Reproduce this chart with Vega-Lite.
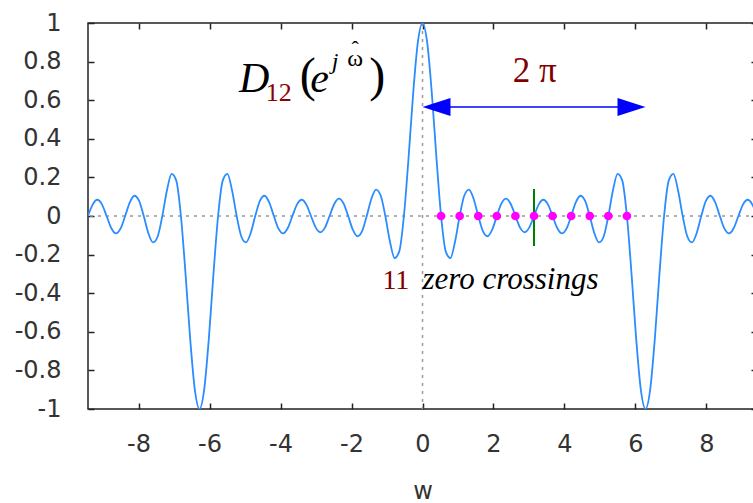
{
  "$schema": "https://vega.github.io/schema/vega-lite/v6.json",
  "width": 669,
  "height": 386,
  "autosize": "none",
  "padding": {"left": 88, "top": 23, "right": 0, "bottom": 94},
  "background": "white",
  "config": {
    "view": {"stroke": "#222", "strokeWidth": 1.5},
    "axis": {
      "labelFont": "DejaVu Sans", "labelFontSize": 24, "labelColor": "#333",
      "tickColor": "#222", "tickWidth": 1.5, "tickSize": -6,
      "domain": false, "grid": false,
      "titleFont": "DejaVu Sans", "titleFontWeight": "normal", "titleFontSize": 24, "titleColor": "#333"
    }
  },
  "datasets": {
    "curve": [
      {"w": -9.4248, "d": 0}, {"w": -9.2939, "d": 0.0591}, {"w": -9.1630, "d": 0.0841}, {"w": -9.0321, "d": 0.0601},
      {"w": -8.9012, "d": 0}, {"w": -8.7703, "d": -0.0622}, {"w": -8.6394, "d": -0.0902}, {"w": -8.5085, "d": -0.0657},
      {"w": -8.3776, "d": 0}, {"w": -8.2467, "d": 0.0709}, {"w": -8.1158, "d": 0.1050}, {"w": -7.9849, "d": 0.0784},
      {"w": -7.8540, "d": 0}, {"w": -7.7231, "d": -0.0894}, {"w": -7.5922, "d": -0.1369}, {"w": -7.4613, "d": -0.1061},
      {"w": -7.3304, "d": 0}, {"w": -7.1995, "d": 0.1332}, {"w": -7.0686, "d": 0.2178}, {"w": -6.9377, "d": 0.1833},
      {"w": -6.8068, "d": 0}, {"w": -6.6759, "d": -0.3020}, {"w": -6.5450, "d": -0.6384}, {"w": -6.4141, "d": -0.9010},
      {"w": -6.2832, "d": -1}, {"w": -6.1523, "d": -0.9010}, {"w": -6.0214, "d": -0.6384}, {"w": -5.8905, "d": -0.3020},
      {"w": -5.7596, "d": 0}, {"w": -5.6287, "d": 0.1833}, {"w": -5.4978, "d": 0.2178}, {"w": -5.3669, "d": 0.1332},
      {"w": -5.2360, "d": 0}, {"w": -5.1051, "d": -0.1061}, {"w": -4.9742, "d": -0.1369}, {"w": -4.8433, "d": -0.0894},
      {"w": -4.7124, "d": 0}, {"w": -4.5815, "d": 0.0784}, {"w": -4.4506, "d": 0.1050}, {"w": -4.3197, "d": 0.0709},
      {"w": -4.1888, "d": 0}, {"w": -4.0579, "d": -0.0657}, {"w": -3.9270, "d": -0.0902}, {"w": -3.7961, "d": -0.0622},
      {"w": -3.6652, "d": 0}, {"w": -3.5343, "d": 0.0601}, {"w": -3.4034, "d": 0.0841}, {"w": -3.2725, "d": 0.0591},
      {"w": -3.1416, "d": 0}, {"w": -3.0107, "d": -0.0591}, {"w": -2.8798, "d": -0.0841}, {"w": -2.7489, "d": -0.0601},
      {"w": -2.6180, "d": 0}, {"w": -2.4871, "d": 0.0622}, {"w": -2.3562, "d": 0.0902}, {"w": -2.2253, "d": 0.0657},
      {"w": -2.0944, "d": 0}, {"w": -1.9635, "d": -0.0709}, {"w": -1.8326, "d": -0.1050}, {"w": -1.7017, "d": -0.0784},
      {"w": -1.5708, "d": 0}, {"w": -1.4399, "d": 0.0894}, {"w": -1.3090, "d": 0.1369}, {"w": -1.1781, "d": 0.1061},
      {"w": -1.0472, "d": 0}, {"w": -0.9163, "d": -0.1332}, {"w": -0.7854, "d": -0.2178}, {"w": -0.6545, "d": -0.1833},
      {"w": -0.5236, "d": 0}, {"w": -0.3927, "d": 0.3020}, {"w": -0.2618, "d": 0.6384}, {"w": -0.1309, "d": 0.9010},
      {"w": 0, "d": 1},
      {"w": 0.1309, "d": 0.9010}, {"w": 0.2618, "d": 0.6384}, {"w": 0.3927, "d": 0.3020}, {"w": 0.5236, "d": 0},
      {"w": 0.6545, "d": -0.1833}, {"w": 0.7854, "d": -0.2178}, {"w": 0.9163, "d": -0.1332}, {"w": 1.0472, "d": 0},
      {"w": 1.1781, "d": 0.1061}, {"w": 1.3090, "d": 0.1369}, {"w": 1.4399, "d": 0.0894}, {"w": 1.5708, "d": 0},
      {"w": 1.7017, "d": -0.0784}, {"w": 1.8326, "d": -0.1050}, {"w": 1.9635, "d": -0.0709}, {"w": 2.0944, "d": 0},
      {"w": 2.2253, "d": 0.0657}, {"w": 2.3562, "d": 0.0902}, {"w": 2.4871, "d": 0.0622}, {"w": 2.6180, "d": 0},
      {"w": 2.7489, "d": -0.0601}, {"w": 2.8798, "d": -0.0841}, {"w": 3.0107, "d": -0.0591}, {"w": 3.1416, "d": 0},
      {"w": 3.2725, "d": 0.0591}, {"w": 3.4034, "d": 0.0841}, {"w": 3.5343, "d": 0.0601}, {"w": 3.6652, "d": 0},
      {"w": 3.7961, "d": -0.0622}, {"w": 3.9270, "d": -0.0902}, {"w": 4.0579, "d": -0.0657}, {"w": 4.1888, "d": 0},
      {"w": 4.3197, "d": 0.0709}, {"w": 4.4506, "d": 0.1050}, {"w": 4.5815, "d": 0.0784}, {"w": 4.7124, "d": 0},
      {"w": 4.8433, "d": -0.0894}, {"w": 4.9742, "d": -0.1369}, {"w": 5.1051, "d": -0.1061}, {"w": 5.2360, "d": 0},
      {"w": 5.3669, "d": 0.1332}, {"w": 5.4978, "d": 0.2178}, {"w": 5.6287, "d": 0.1833}, {"w": 5.7596, "d": 0},
      {"w": 5.8905, "d": -0.3020}, {"w": 6.0214, "d": -0.6384}, {"w": 6.1523, "d": -0.9010}, {"w": 6.2832, "d": -1},
      {"w": 6.4141, "d": -0.9010}, {"w": 6.5450, "d": -0.6384}, {"w": 6.6759, "d": -0.3020}, {"w": 6.8068, "d": 0},
      {"w": 6.9377, "d": 0.1833}, {"w": 7.0686, "d": 0.2178}, {"w": 7.1995, "d": 0.1332}, {"w": 7.3304, "d": 0},
      {"w": 7.4613, "d": -0.1061}, {"w": 7.5922, "d": -0.1369}, {"w": 7.7231, "d": -0.0894}, {"w": 7.8540, "d": 0},
      {"w": 7.9849, "d": 0.0784}, {"w": 8.1158, "d": 0.1050}, {"w": 8.2467, "d": 0.0709}, {"w": 8.3776, "d": 0},
      {"w": 8.5085, "d": -0.0657}, {"w": 8.6394, "d": -0.0902}, {"w": 8.7703, "d": -0.0622}, {"w": 8.9012, "d": 0},
      {"w": 9.0321, "d": 0.0601}, {"w": 9.1630, "d": 0.0841}, {"w": 9.2939, "d": 0.0591}, {"w": 9.4248, "d": 0}
    ],
    "zeros": [
      {"w": 0.5236, "d": 0}, {"w": 1.0472, "d": 0}, {"w": 1.5708, "d": 0}, {"w": 2.0944, "d": 0},
      {"w": 2.6180, "d": 0}, {"w": 3.1416, "d": 0}, {"w": 3.6652, "d": 0}, {"w": 4.1888, "d": 0},
      {"w": 4.7124, "d": 0}, {"w": 5.2360, "d": 0}, {"w": 5.7596, "d": 0}
    ]
  },
  "resolve": {"axis": {"x": "independent", "y": "independent"}},
  "layer": [
    {
      "data": {"values": [{}]},
      "mark": {"type": "rule", "color": "#999999", "strokeDash": [3, 5], "strokeWidth": 1.5},
      "encoding": {"y": {"datum": 0, "type": "quantitative", "axis": null}}
    },
    {
      "data": {"values": [{}]},
      "mark": {"type": "rule", "color": "#999999", "strokeDash": [3, 5], "strokeWidth": 1.5},
      "encoding": {"x": {"datum": 0, "type": "quantitative", "axis": null}}
    },
    {
      "data": {"name": "curve"},
      "mark": {"type": "line", "color": "#2a8cff", "strokeWidth": 1.8, "interpolate": "monotone", "clip": true},
      "encoding": {
        "x": {
          "field": "w", "type": "quantitative",
          "scale": {"domain": [-9.4248, 9.4248], "nice": false, "zero": false},
          "axis": {
            "orient": "bottom", "values": [-8, -6, -4, -2, 0, 2, 4, 6, 8],
            "labelPadding": 29, "title": "w", "titlePadding": 23,
            "labelExpr": "replace(format(datum.value, '~g'), '\u2212', '-')"
          }
        },
        "y": {
          "field": "d", "type": "quantitative",
          "scale": {"domain": [-1, 1], "nice": false, "zero": false},
          "axis": {
            "orient": "left", "values": [-1, -0.8, -0.6, -0.4, -0.2, 0, 0.2, 0.4, 0.6, 0.8, 1],
            "labelPadding": 33, "title": null,
            "labelExpr": "replace(format(datum.value, '~g'), '\u2212', '-')"
          }
        }
      }
    },
    {
      "data": {"name": "curve"},
      "mark": {"type": "point", "opacity": 0},
      "encoding": {
        "x": {"field": "w", "type": "quantitative", "axis": {"orient": "top", "labels": false, "title": null, "values": [-8, -6, -4, -2, 0, 2, 4, 6, 8]}},
        "y": {"field": "d", "type": "quantitative", "axis": {"orient": "right", "labels": false, "title": null, "values": [-1, -0.8, -0.6, -0.4, -0.2, 0, 0.2, 0.4, 0.6, 0.8, 1]}}
      }
    },
    {
      "data": {"values": [{}]},
      "mark": {"type": "rule", "color": "#008000", "strokeWidth": 2},
      "encoding": {
        "x": {"datum": 3.1416, "type": "quantitative", "axis": null},
        "y": {"datum": -0.155, "type": "quantitative", "axis": null},
        "y2": {"datum": 0.14}
      }
    },
    {
      "data": {"name": "zeros"},
      "mark": {"type": "point", "filled": true, "color": "#ff00ff", "opacity": 1, "size": 75, "shape": "circle"},
      "encoding": {
        "x": {"field": "w", "type": "quantitative", "axis": null},
        "y": {"field": "d", "type": "quantitative", "axis": null}
      }
    },
    {
      "data": {"values": [{}]},
      "mark": {"type": "rule", "color": "#0000ff", "strokeWidth": 1.5},
      "encoding": {
        "x": {"datum": 0.2, "type": "quantitative", "axis": null},
        "x2": {"datum": 6.0},
        "y": {"datum": 0.565, "type": "quantitative", "axis": null}
      }
    },
    {
      "data": {"values": [{}]},
      "mark": {"type": "point", "filled": true, "color": "#0000ff", "opacity": 1, "size": 784, "shape": "M0,0L2,-0.643L2,0.643Z"},
      "encoding": {
        "x": {"datum": 0, "type": "quantitative", "axis": null},
        "y": {"datum": 0.565, "type": "quantitative", "axis": null}
      }
    },
    {
      "data": {"values": [{}]},
      "mark": {"type": "point", "filled": true, "color": "#0000ff", "opacity": 1, "size": 784, "shape": "M0,0L-2,-0.643L-2,0.643Z"},
      "encoding": {
        "x": {"datum": 6.2832, "type": "quantitative", "axis": null},
        "y": {"datum": 0.565, "type": "quantitative", "axis": null}
      }
    },
    {
      "data": {"values": [{}]},
      "mark": {"type": "text", "text": "D", "font": "Liberation Serif", "fontStyle": "italic", "fontSize": 42, "align": "left", "baseline": "alphabetic", "color": "#000000"},
      "encoding": {
        "x": {"datum": -5.17, "type": "quantitative", "axis": null},
        "y": {"datum": 0.644, "type": "quantitative", "axis": null}
      }
    },
    {
      "data": {"values": [{}]},
      "mark": {"type": "text", "text": "12", "font": "Liberation Serif", "fontSize": 26, "align": "left", "baseline": "alphabetic", "color": "#8b0000"},
      "encoding": {
        "x": {"datum": -4.42, "type": "quantitative", "axis": null},
        "y": {"datum": 0.596, "type": "quantitative", "axis": null}
      }
    },
    {
      "data": {"values": [{}]},
      "mark": {"type": "text", "text": "(", "font": "Liberation Serif", "fontSize": 48, "align": "left", "baseline": "alphabetic", "color": "#000000"},
      "encoding": {
        "x": {"datum": -3.46, "type": "quantitative", "axis": null},
        "y": {"datum": 0.65, "type": "quantitative", "axis": null}
      }
    },
    {
      "data": {"values": [{}]},
      "mark": {"type": "text", "text": "e", "font": "Liberation Serif", "fontStyle": "italic", "fontSize": 42, "align": "left", "baseline": "alphabetic", "color": "#000000"},
      "encoding": {
        "x": {"datum": -3.16, "type": "quantitative", "axis": null},
        "y": {"datum": 0.644, "type": "quantitative", "axis": null}
      }
    },
    {
      "data": {"values": [{}]},
      "mark": {"type": "text", "text": "j", "font": "Liberation Serif", "fontStyle": "italic", "fontSize": 24, "align": "left", "baseline": "alphabetic", "color": "#000000"},
      "encoding": {
        "x": {"datum": -2.56, "type": "quantitative", "axis": null},
        "y": {"datum": 0.76, "type": "quantitative", "axis": null}
      }
    },
    {
      "data": {"values": [{}]},
      "mark": {"type": "text", "text": "ω", "font": "Liberation Serif", "fontSize": 24, "align": "center", "baseline": "alphabetic", "color": "#000000"},
      "encoding": {
        "x": {"datum": -1.9, "type": "quantitative", "axis": null},
        "y": {"datum": 0.775, "type": "quantitative", "axis": null}
      }
    },
    {
      "data": {"values": [{}]},
      "mark": {"type": "text", "text": "ˆ", "font": "Liberation Serif", "fontSize": 22, "align": "center", "baseline": "alphabetic", "color": "#000000"},
      "encoding": {
        "x": {"datum": -1.9, "type": "quantitative", "axis": null},
        "y": {"datum": 0.83, "type": "quantitative", "axis": null}
      }
    },
    {
      "data": {"values": [{}]},
      "mark": {"type": "text", "text": ")", "font": "Liberation Serif", "fontSize": 48, "align": "left", "baseline": "alphabetic", "color": "#000000"},
      "encoding": {
        "x": {"datum": -1.5, "type": "quantitative", "axis": null},
        "y": {"datum": 0.65, "type": "quantitative", "axis": null}
      }
    },
    {
      "data": {"values": [{}]},
      "mark": {"type": "text", "text": "2 π", "font": "Liberation Serif", "fontSize": 35, "align": "center", "baseline": "alphabetic", "color": "#800000"},
      "encoding": {
        "x": {"datum": 3.16, "type": "quantitative", "axis": null},
        "y": {"datum": 0.696, "type": "quantitative", "axis": null}
      }
    },
    {
      "data": {"values": [{}]},
      "mark": {"type": "text", "text": "11", "font": "Liberation Serif", "fontSize": 28, "align": "left", "baseline": "alphabetic", "color": "#800000"},
      "encoding": {
        "x": {"datum": -1.13, "type": "quantitative", "axis": null},
        "y": {"datum": -0.378, "type": "quantitative", "axis": null}
      }
    },
    {
      "data": {"values": [{}]},
      "mark": {"type": "text", "text": "zero crossings", "font": "Liberation Serif", "fontStyle": "italic", "fontSize": 31, "align": "left", "baseline": "alphabetic", "color": "#000000"},
      "encoding": {
        "x": {"datum": 0.0, "type": "quantitative", "axis": null},
        "y": {"datum": -0.378, "type": "quantitative", "axis": null}
      }
    }
  ]
}
